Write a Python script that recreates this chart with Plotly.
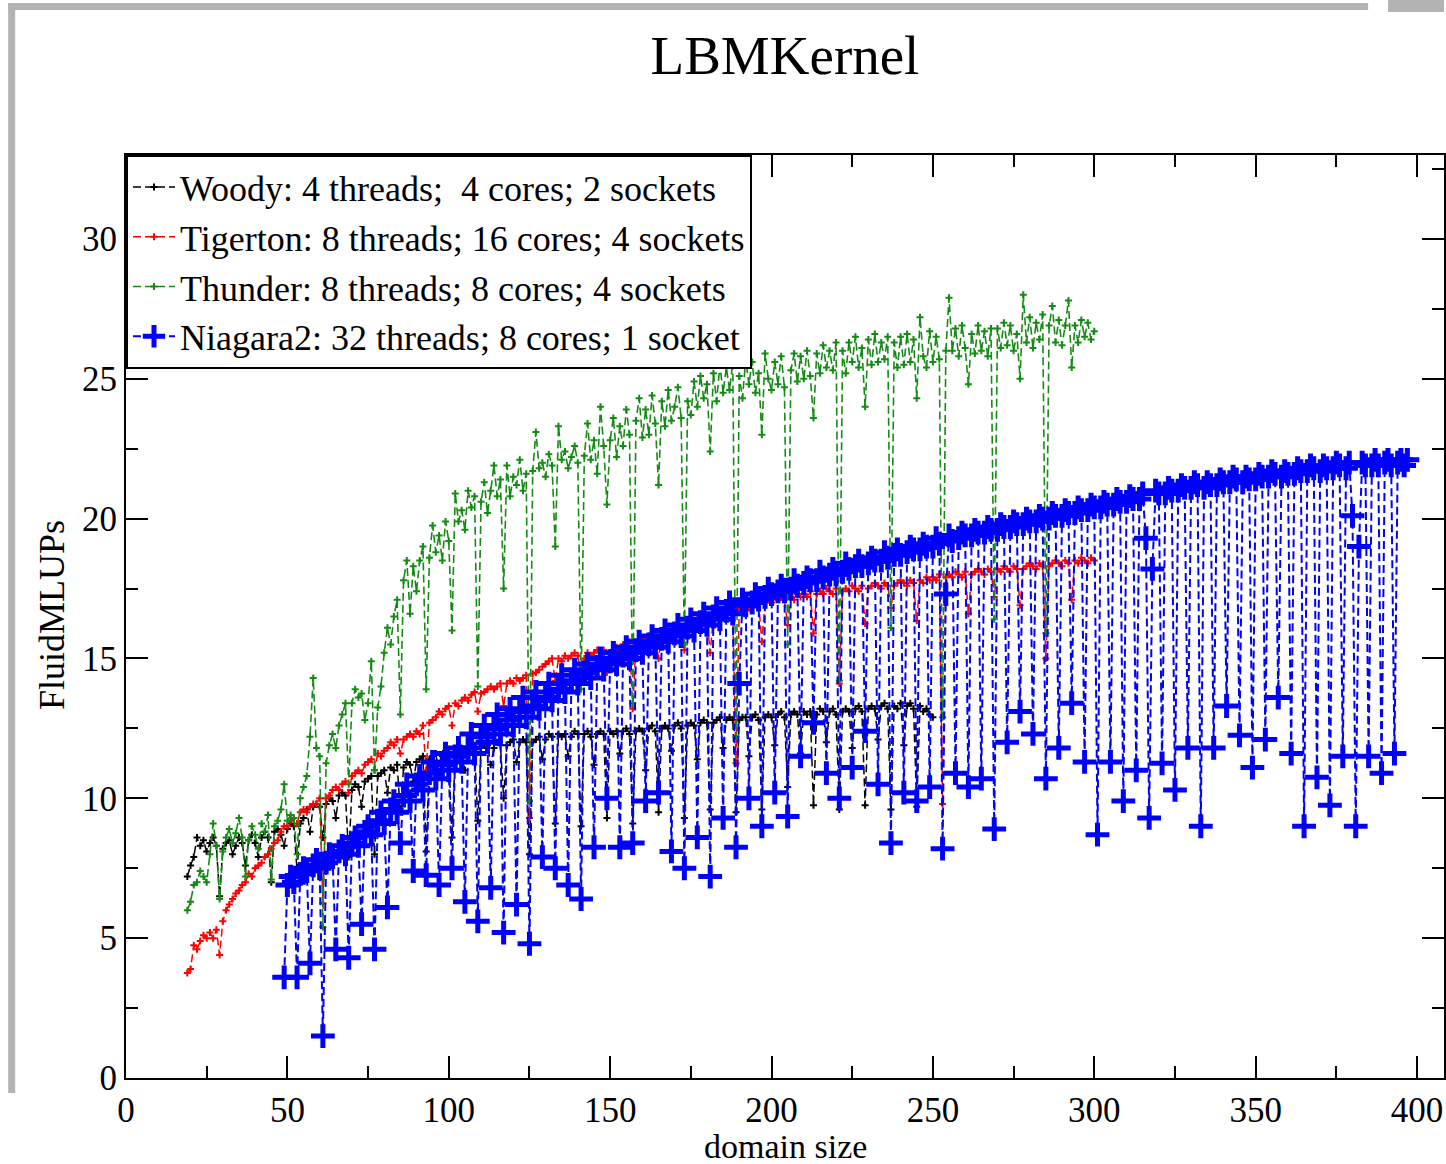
import plotly.graph_objects as go

# ---------------- data ----------------
woody_start = 19
woody_y = [
    7.2, 7.6,
    7.9, 8.6, 8.3, 8.5, 8.1, 8.4, 8.6, 8.3,
    6.5, 8.2, 8.4, 8.5, 8.0, 8.3, 8.6, 8.4,
    7.6, 8.5, 8.7, 8.4, 7.9, 8.6, 8.8, 8.6,
    7.0, 8.8, 8.9, 8.7, 8.3, 8.9, 9.1, 9.0,
    7.4, 9.1, 9.3, 9.6, 8.8, 9.7, 9.8, 9.7,
    8.6, 9.8, 10.0, 9.9, 9.3, 10.1, 10.2, 10.1,
    7.9, 10.3, 10.5, 10.4, 9.7, 10.6, 10.7, 10.8,
    8.0, 10.8, 10.9, 11.0, 10.2, 11.1, 11.0, 11.2,
    9.5, 11.1, 11.3, 11.2, 10.6, 11.3, 11.4, 11.5,
    8.1, 11.4, 11.5, 11.6, 10.9, 11.5, 11.7, 11.6,
    8.6, 11.6, 11.7, 11.8, 11.0, 11.7, 11.9, 11.8,
    9.2, 11.8, 11.9, 11.9, 11.2, 11.8, 12.0, 11.9,
    10.0, 11.9, 12.0, 12.1, 11.3, 12.0, 12.1, 12.0,
    8.0, 12.0, 12.1, 12.2, 11.4, 12.1, 12.3, 12.2,
    9.1, 12.3, 12.2, 12.3, 11.5, 12.2, 12.4, 12.3,
    9.0, 12.3, 12.4, 12.2, 11.2, 12.3, 12.4, 12.3,
    9.3, 12.4, 12.3, 12.4, 11.6, 12.4, 12.5, 12.3,
    9.1, 12.4, 12.5, 12.4, 11.0, 12.5, 12.6, 12.4,
    9.5, 12.5, 12.6, 12.5, 11.7, 12.6, 12.7, 12.5,
    9.3, 12.6, 12.7, 12.6, 11.4, 12.7, 12.8, 12.7,
    9.6, 12.7, 12.8, 12.9, 11.8, 12.8, 12.9, 12.8,
    9.5, 12.8, 12.9, 12.9, 11.5, 12.9, 13.0, 12.8,
    9.6, 12.9, 13.0, 12.9, 11.9, 13.0, 13.1, 12.9,
    10.4, 13.0, 13.1, 13.0, 11.6, 13.1, 13.0, 13.1,
    9.75, 13.0, 13.2, 13.1, 12.0, 13.1, 13.2, 13.0,
    9.6, 13.1, 13.2, 13.1, 11.8, 13.2, 13.3, 13.1,
    9.75, 13.2, 13.3, 13.2, 12.1, 13.3, 13.4, 13.2,
    9.6, 13.3, 13.2, 13.4, 11.9, 13.3, 13.4, 13.2,
    9.7, 13.3, 13.1, 13.2, 13.0, 12.9,
]

tigerton_start = 19
tigerton_y = [
    3.75, 3.9,
    4.75, 4.6, 4.9, 5.1, 5.0, 5.2, 5.0, 5.3,
    4.4, 5.6, 6.0, 6.2, 6.4, 6.6, 6.7, 6.9,
    7.0, 7.3, 7.2, 7.5, 7.6, 7.7, 7.9, 8.0,
    8.2, 8.4, 8.5, 8.8, 9.0, 9.0, 9.2, 9.3,
    9.1, 9.5, 9.6, 9.5, 9.7, 9.8, 9.8, 10.0,
    6.25, 10.0, 10.1, 10.3, 10.4, 10.3, 10.5, 10.6,
    10.2, 10.8, 10.9, 11.0, 10.9, 11.2, 11.3, 11.4,
    11.0, 11.6, 11.5, 11.7, 11.8, 12.0, 11.9, 12.1,
    11.6, 12.1, 12.2, 12.3, 12.2, 12.4, 12.3, 12.6,
    11.0, 12.7, 12.8, 12.9, 13.1, 13.0, 13.2, 13.3,
    12.6, 13.4, 13.3, 13.5, 13.6, 13.5, 13.7, 13.8,
    13.1, 13.75, 13.8, 13.9, 14.0, 13.9, 14.0, 14.1,
    13.3, 14.1, 14.2, 14.1, 14.3, 14.2, 14.3, 14.4,
    9.3, 14.45, 14.5, 14.6, 14.7, 14.8, 14.9, 15.0,
    14.2, 15.0, 14.9, 15.1, 15.0, 15.1, 15.2, 15.1,
    14.4, 15.0, 15.2, 15.1, 15.2, 15.3, 15.1, 15.3,
    14.5, 15.2, 15.3, 15.4, 15.3, 15.5, 15.4, 15.6,
    13.2, 15.5, 15.6, 15.7, 15.6, 15.8, 15.7, 15.9,
    15.0, 15.8, 16.0, 15.9, 16.1, 16.0, 16.2, 16.1,
    15.3, 16.2, 16.3, 16.2, 16.4, 16.3, 16.5, 16.4,
    15.2, 16.5, 16.6, 16.5, 16.7, 16.6, 16.8, 16.7,
    11.25, 16.8, 16.7, 16.9, 16.8, 17.0, 16.9, 17.0,
    15.6, 17.0, 17.1, 17.0, 17.2, 17.1, 17.2, 17.1,
    16.2, 17.2, 17.1, 17.3, 17.2, 17.3, 17.2, 17.4,
    15.9, 17.3, 17.4, 17.3, 17.5, 17.4, 17.3, 17.5,
    14.1, 17.4, 17.5, 17.4, 17.6, 17.5, 17.4, 17.6,
    16.25, 17.5, 17.6, 17.7, 17.6, 17.5, 17.7, 17.6,
    16.8, 17.6, 17.7, 17.8, 17.7, 17.6, 17.8, 17.7,
    16.35, 17.8, 17.7, 17.9, 17.8, 17.9, 17.8, 18.0,
    9.8, 17.9, 18.0, 17.9, 18.1, 18.0, 17.9, 18.1,
    16.6, 18.0, 18.1, 18.2, 18.1, 18.0, 18.2, 18.1,
    17.2, 18.2, 18.1, 18.3, 18.2, 18.1, 18.3, 18.2,
    16.9, 18.2, 18.3, 18.4, 18.3, 18.2, 18.4, 18.3,
    15.0, 18.3, 18.4, 18.5, 18.4, 18.3, 18.5, 18.4,
    17.1, 18.5, 18.4, 18.6, 18.5, 18.4, 18.6, 18.5,
]

thunder_start = 19
thunder_y = [
    6.0, 6.3,
    6.9, 7.0, 7.4, 7.2, 7.0, 8.0, 9.1, 8.3,
    6.4, 8.1, 8.6, 8.9, 8.4, 8.75, 9.3, 8.6,
    7.2, 8.5, 9.0, 8.7, 8.2, 9.1, 8.8, 9.4,
    7.1, 9.0, 9.2, 9.6, 10.5, 9.2, 9.4, 9.3,
    8.0, 10.0, 10.4, 10.8, 12.2, 14.3, 11.8, 11.5,
    5.4, 11.25, 11.9, 12.3, 11.8, 12.6, 13.0, 13.4,
    10.5, 13.4, 13.9, 13.6, 13.75, 12.8, 13.4, 14.9,
    11.0, 13.25, 14.0, 15.2, 16.1, 15.5, 16.5, 17.1,
    13.0, 17.8, 18.5, 16.6, 18.3, 17.4, 18.5, 19.0,
    13.9, 18.6, 19.75, 18.8, 19.4, 18.5, 19.9, 19.2,
    16.0, 20.9, 19.9, 20.3, 19.6, 21.0, 20.4, 20.8,
    14.0, 20.6, 21.3, 20.2, 21.0, 21.9, 20.8, 21.4,
    17.5, 21.9, 20.8, 21.5, 21.2, 22.1, 21.0, 21.6,
    9.9, 21.7, 23.1, 21.8, 22.0, 21.5, 22.3, 21.9,
    19.0, 23.3, 22.1, 22.4, 21.8, 22.2, 22.6, 22.0,
    13.9, 22.25, 23.4, 22.1, 22.8, 21.6, 24.0, 22.6,
    20.5, 22.8, 23.6, 22.2, 23.3, 22.6, 23.9, 23.0,
    13.4, 23.5, 24.3, 22.9, 23.9, 23.0, 24.4, 23.4,
    21.2, 24.2, 23.3, 24.6, 23.5, 24.0, 24.7, 23.6,
    15.5, 24.2, 23.7, 24.9, 24.0, 25.1, 24.3, 24.8,
    22.4, 25.2, 24.2, 25.5, 24.5, 25.4, 24.6, 25.6,
    12.2, 25.1, 24.3, 25.7, 24.8, 25.6, 24.5, 25.2,
    23.0, 25.9, 25.0, 24.6, 25.6, 24.8, 25.8, 24.7,
    15.5, 25.3, 25.9, 24.9, 25.8, 25.0, 26.0, 25.1,
    23.6, 25.9, 25.2, 26.2, 25.4, 26.0, 25.3, 26.3,
    14.2, 26.0, 25.2, 26.3, 25.6, 26.5, 25.4, 26.1,
    24.0, 26.4, 25.5, 26.6, 25.6, 26.3, 25.7, 26.5,
    16.1, 26.3, 25.4, 26.5, 25.5, 26.6, 25.6, 26.4,
    24.3, 27.2, 25.8, 25.4, 26.7, 25.6, 26.5, 25.7,
    12.9, 26.0, 27.9, 26.0, 26.8, 25.8, 26.9, 26.1,
    24.8, 26.6, 25.9, 26.9, 26.0, 26.7, 25.8, 26.8,
    16.4, 26.8, 26.1, 27.0, 26.2, 26.9, 26.0, 26.6,
    25.0, 28.0, 26.3, 27.2, 26.1, 27.0, 26.4, 27.3,
    15.9, 26.9, 27.6, 26.3, 27.1, 26.2, 26.9, 27.8,
    25.4, 26.9, 26.3, 27.1, 26.5, 27.0, 26.4, 26.7,
]

niagara_start = 49
niagara_y = [
    3.6, 6.9, 7.2, 7.0,
    3.6, 7.3, 7.5, 7.4,
    4.1, 7.6, 7.8, 7.5,
    1.5, 7.7, 8.0, 7.9,
    4.6, 8.1, 8.3, 8.0,
    4.3, 8.4, 8.6, 8.3,
    5.5, 8.8, 9.0, 8.7,
    4.6, 9.2, 9.5, 9.1,
    6.1, 9.6, 9.9, 9.5,
    8.4, 10.1, 10.5, 9.9,
    7.4, 10.5, 10.8, 10.3,
    7.25, 10.9, 11.3, 10.7,
    6.9, 11.2, 11.6, 11.0,
    7.5, 11.5, 11.8, 11.3,
    6.3, 11.8, 12.3, 11.6,
    5.6, 12.2, 12.6, 12.0,
    6.8, 12.5, 13.0, 12.3,
    5.2, 12.8, 13.2, 12.6,
    6.2, 13.1, 13.6, 12.9,
    4.8, 13.3, 13.8, 13.2,
    7.9, 13.6, 14.1, 13.5,
    7.5, 13.9, 14.4, 13.8,
    6.9, 14.2, 14.6, 14.1,
    6.4, 14.5, 14.8, 14.3,
    8.25, 14.7, 15.0, 14.6,
    10.0, 14.9, 15.2, 14.8,
    8.25, 15.1, 15.4, 15.0,
    8.4, 15.3, 15.6, 15.2,
    9.9, 15.5, 15.8, 15.4,
    10.2, 15.7, 16.0, 15.6,
    8.1, 15.9, 16.2, 15.8,
    7.5, 16.1, 16.4, 16.0,
    8.6, 16.3, 16.6, 16.2,
    7.2, 16.5, 16.8, 16.4,
    9.3, 16.7, 17.0, 16.6,
    8.25, 14.1, 17.1, 16.9,
    10.0, 17.0, 17.3, 17.1,
    9.0, 17.2, 17.5, 17.3,
    10.2, 17.4, 17.6, 17.4,
    9.35, 17.5, 17.8, 17.6,
    11.5, 17.7, 17.9, 17.8,
    12.7, 17.8, 18.1, 17.9,
    10.9, 18.0, 18.2, 18.0,
    10.0, 18.1, 18.4, 18.2,
    11.1, 18.3, 18.5, 18.3,
    12.4, 18.4, 18.6, 18.5,
    10.5, 18.5, 18.8, 18.6,
    8.4, 18.7, 18.9, 18.7,
    10.2, 18.8, 19.0, 18.9,
    9.9, 18.9, 19.1, 19.0,
    10.4, 19.0, 19.3, 19.1,
    8.2, 17.3, 19.4, 19.2,
    10.9, 19.3, 19.5, 19.4,
    10.4, 19.4, 19.6, 19.5,
    10.7, 19.5, 19.7, 19.6,
    8.9, 19.6, 19.8, 19.7,
    12.0, 19.7, 19.9, 19.8,
    13.1, 19.8, 20.0, 19.9,
    12.3, 19.9, 20.1, 20.0,
    10.7, 20.0, 20.2, 20.1,
    11.8, 20.1, 20.3, 20.2,
    13.4, 20.2, 20.4, 20.3,
    11.3, 20.3, 20.5, 20.4,
    8.7, 20.4, 20.6, 20.5,
    11.3, 20.5, 20.7, 20.6,
    9.9, 20.6, 20.8, 20.7,
    11.0, 20.7, 20.9, 19.3,
    9.3, 18.2, 21.0, 20.9,
    11.25, 20.9, 21.1, 21.0,
    10.3, 21.0, 21.2, 21.1,
    11.8, 21.1, 21.3, 21.2,
    9.0, 21.1, 21.3, 21.2,
    11.8, 21.2, 21.4, 21.3,
    13.3, 21.3, 21.5, 21.4,
    12.25, 21.3, 21.5, 21.4,
    11.1, 21.4, 21.6, 21.5,
    12.1, 21.5, 21.7, 21.6,
    13.6, 21.5, 21.7, 21.6,
    11.6, 21.6, 21.8, 21.7,
    9.0, 21.7, 21.9, 21.8,
    10.75, 21.7, 21.9, 21.8,
    9.75, 21.8, 22.0, 21.9,
    11.5, 21.8, 22.0, 20.1,
    9.0, 19.0, 22.0, 21.9,
    11.5, 21.9, 22.1, 21.9,
    10.9, 22.0, 22.1, 21.9,
    11.6, 22.0, 22.1, 21.9,
    22.1,
]

series_names = [
    "Woody: 4 threads;\u00a0 4 cores; 2 sockets",
    "Tigerton: 8 threads; 16 cores; 4 sockets",
    "Thunder: 8 threads; 8 cores; 4 sockets",
    "Niagara2: 32 threads; 8 cores; 1 socket",
]

x_ticks = [0, 50, 100, 150, 200, 250, 300, 350, 400]
y_ticks = [0, 5, 10, 15, 20, 25, 30]


def xs(start, ys):
    return list(range(start, start + len(ys)))


FONT = "Liberation Serif"
DASH = "8px,4px"

fig = go.Figure()

fig.add_trace(go.Scatter(
    x=xs(woody_start, woody_y), y=woody_y, mode="lines+markers",
    name=series_names[0],
    line=dict(color="black", width=1.5, dash=DASH),
    marker=dict(symbol="cross-thin", size=5, line=dict(width=2, color="black")),
))
fig.add_trace(go.Scatter(
    x=xs(tigerton_start, tigerton_y), y=tigerton_y, mode="lines+markers",
    name=series_names[1],
    line=dict(color="#ff0000", width=1.5, dash=DASH),
    marker=dict(symbol="cross-thin", size=5, line=dict(width=2, color="#ff0000")),
))
fig.add_trace(go.Scatter(
    x=xs(thunder_start, thunder_y), y=thunder_y, mode="lines+markers",
    name=series_names[2],
    line=dict(color="#158a15", width=1.6, dash=DASH),
    marker=dict(symbol="cross-thin", size=5, line=dict(width=2, color="#158a15")),
))
fig.add_trace(go.Scatter(
    x=xs(niagara_start, niagara_y), y=niagara_y, mode="lines+markers",
    name=series_names[3],
    line=dict(color="#0000ff", width=2, dash=DASH),
    marker=dict(symbol="cross-thin", size=17, line=dict(width=5, color="#0000ff")),
))

L, R, T, B = 126, 0, 155, 86
W, H = 1446, 1164
pw, ph = W - L - R, H - T - B


def px(xp):
    return (xp - L) / pw


def py(yp):
    return (H - B - yp) / ph


axis_common = dict(
    showline=True, linecolor="black", linewidth=2, mirror="ticks",
    ticks="inside", ticklen=22, tickwidth=2, tickcolor="black",
    showgrid=False, zeroline=False,
    tickfont=dict(family=FONT, size=35, color="black"),
)

fig.update_layout(
    width=W, height=H, autosize=False,
    margin=dict(l=L, r=R, t=T, b=B, pad=0),
    paper_bgcolor="white", plot_bgcolor="white",
    font=dict(family=FONT, color="black"),
    title=dict(text="LBMKernel", x=0.5, xref="paper", y=1 - 55 / H, yanchor="middle",
               font=dict(family=FONT, size=55, color="black")),
    showlegend=True,
    legend=dict(x=0, y=1, xanchor="left", yanchor="top",
                bgcolor="white", bordercolor="black", borderwidth=2,
                font=dict(family=FONT, size=36, color="black"),
                itemwidth=42, tracegroupgap=0),
    xaxis=dict(range=[0, pw / 3.2325], tickvals=x_ticks,
               minor=dict(dtick=25, ticks="inside", ticklen=12, tickwidth=2, tickcolor="black"),
               **axis_common),
    yaxis=dict(range=[0, ph / 27.97], tickvals=y_ticks,
               minor=dict(dtick=2.5, ticks="inside", ticklen=12, tickwidth=2, tickcolor="black"),
               **axis_common),
    annotations=[
        dict(text="domain size", xref="paper", yref="paper", x=0.5, y=py(1146),
             xanchor="center", yanchor="middle", showarrow=False,
             font=dict(family=FONT, size=34, color="black")),
        dict(text="FluidMLUPs", xref="paper", yref="paper", x=px(52), y=py(615),
             xanchor="center", yanchor="middle", showarrow=False, textangle=-90,
             font=dict(family=FONT, size=36, color="black")),
    ],
    shapes=[
        dict(type="rect", xref="paper", yref="paper", x0=px(8), x1=px(15), y0=py(1093), y1=py(3),
             fillcolor="#b3b3b3", line=dict(width=0), layer="above"),
        dict(type="rect", xref="paper", yref="paper", x0=px(8), x1=px(1370), y0=py(10), y1=py(3),
             fillcolor="#b3b3b3", line=dict(width=0), layer="above"),
        dict(type="rect", xref="paper", yref="paper", x0=px(1390), x1=px(1446), y0=py(12), y1=py(0),
             fillcolor="#b3b3b3", line=dict(width=0), layer="above"),
    ],
)

fig.write_html("out.html", config={"displayModeBar": False},
               post_script="document.body.style.margin='0px';")
